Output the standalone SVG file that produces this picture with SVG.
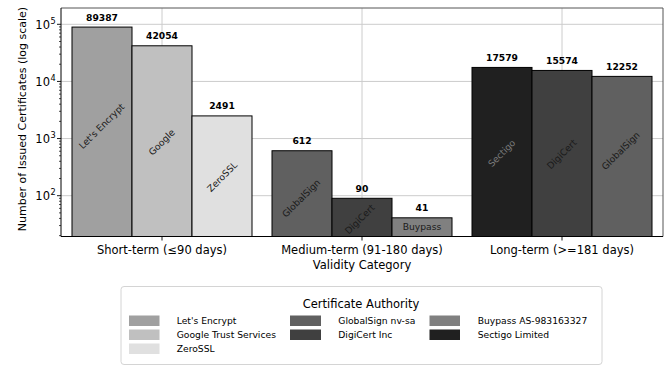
<svg xmlns="http://www.w3.org/2000/svg" width="667" height="368" viewBox="0 0 667 368">
<style>
text{font-family:"DejaVu Sans","Liberation Sans",sans-serif;fill:#000}
.tick{font-size:11.5px}
.sup{font-size:8.2px}
.val{font-size:9.2px;font-weight:bold;text-anchor:middle}
.bl{font-size:9.2px;text-anchor:middle;dominant-baseline:central;fill:#1a1a1a}
.leg{font-size:9.2px}
.grid{stroke:#cccccc;stroke-width:1;fill:none}
.bar{stroke:#000;stroke-width:1}
</style>
<rect width="667" height="368" fill="#fff"/>
<g id="grid">
<path class="grid" d="M162,8V236.5M362,8V236.5M562,8V236.5M61,24.3H663M61,81.43H663M61,138.56H663M61,195.69H663"/>
</g>
<g id="bars">
<g id="bar-letsencrypt"><rect class="bar" x="72" y="27.08" width="60" height="209.42" fill="#a0a0a0"/><text class="val" x="102" y="20.6">89387</text><text class="bl" transform="translate(101.5,126) rotate(-45)">Let's Encrypt</text></g>
<g id="bar-google"><rect class="bar" x="132" y="45.79" width="60" height="190.71" fill="#c0c0c0"/><text class="val" x="162" y="39.3">42054</text><text class="bl" transform="translate(161.5,142) rotate(-45)">Google</text></g>
<g id="bar-zerossl"><rect class="bar" x="192" y="115.91" width="60" height="120.59" fill="#e0e0e0"/><text class="val" x="222" y="109.4">2491</text><text class="bl" transform="translate(222,176.5) rotate(-45)">ZeroSSL</text></g>
<g id="bar-globalsign-m"><rect class="bar" x="272" y="150.74" width="60" height="85.76" fill="#606060"/><text class="val" x="302" y="144.2">612</text><text class="bl" transform="translate(301,198) rotate(-45)">GlobalSign</text></g>
<g id="bar-digicert-m"><rect class="bar" x="332" y="198.3" width="60" height="38.2" fill="#404040"/><text class="val" x="362" y="191.8">90</text><text class="bl" transform="translate(359.5,219) rotate(-45)">DigiCert</text></g>
<g id="bar-buypass"><rect class="bar" x="392" y="217.81" width="60" height="18.69" fill="#808080"/><text class="val" x="422" y="211.3">41</text><text class="bl" x="422" y="226.5">Buypass</text></g>
<g id="bar-sectigo"><rect class="bar" x="472" y="67.43" width="60" height="169.07" fill="#202020"/><text class="val" x="502" y="60.9">17579</text><text class="bl" style="fill:#7a7a7a" transform="translate(501.5,153) rotate(-45)">Sectigo</text></g>
<g id="bar-digicert-l"><rect class="bar" x="532" y="70.44" width="60" height="166.06" fill="#404040"/><text class="val" x="562" y="63.9">15574</text><text class="bl" transform="translate(561.5,154) rotate(-45)">DigiCert</text></g>
<g id="bar-globalsign-l"><rect class="bar" x="592" y="76.39" width="60" height="160.11" fill="#606060"/><text class="val" x="622" y="69.9">12252</text><text class="bl" transform="translate(620.5,150.5) rotate(-45)">GlobalSign</text></g>
</g>
<g id="axes">
<path d="M61,8H663V236.5" fill="none" stroke="#555" stroke-width="1"/>
<path d="M61,8V236.5H663" fill="none" stroke="#000" stroke-width="1"/>
<path d="M57,24.3H61M57,81.43H61M57,138.56H61M57,195.69H61M162,236.5V240.5M362,236.5V240.5M562,236.5V240.5" stroke="#000" stroke-width="0.9"/>
<path d="M59,235.62H61M59,225.56H61M59,218.42H61M59,212.89H61M59,208.36H61M59,204.54H61M59,201.23H61M59,198.3H61M59,178.49H61M59,168.43H61M59,161.29H61M59,155.76H61M59,151.23H61M59,147.41H61M59,144.1H61M59,141.17H61M59,121.36H61M59,111.3H61M59,104.16H61M59,98.63H61M59,94.1H61M59,90.28H61M59,86.97H61M59,84.04H61M59,64.23H61M59,54.17H61M59,47.03H61M59,41.5H61M59,36.97H61M59,33.15H61M59,29.84H61M59,26.91H61" stroke="#000" stroke-width="0.7"/>
<text class="tick" x="50" y="28.5" text-anchor="end">10</text><text class="sup" x="50.6" y="24">5</text>
<text class="tick" x="50" y="85.6" text-anchor="end">10</text><text class="sup" x="50.6" y="81.1">4</text>
<text class="tick" x="50" y="142.7" text-anchor="end">10</text><text class="sup" x="50.6" y="138.2">3</text>
<text class="tick" x="50" y="199.9" text-anchor="end">10</text><text class="sup" x="50.6" y="195.4">2</text>
<text class="tick" x="162" y="254" text-anchor="middle">Short-term (≤90 days)</text>
<text class="tick" x="362" y="254" text-anchor="middle">Medium-term (91-180 days)</text>
<text class="tick" x="562" y="254" text-anchor="middle">Long-term (&gt;=181 days)</text>
<text class="tick" x="362" y="268.5" text-anchor="middle">Validity Category</text>
<text class="tick" style="font-size:11px" text-anchor="middle" transform="translate(25.5,119) rotate(-90)">Number of Issued Certificates (log scale)</text>
</g>
<g id="connectors"/>
<g id="legend">
<rect x="121" y="286.5" width="481" height="78" rx="3" fill="#fff" stroke="#d4d4d4" stroke-width="1"/>
<text class="tick" x="361" y="308" text-anchor="middle">Certificate Authority</text>
<rect x="129" y="315.5" width="30.5" height="10.5" fill="#a0a0a0"/><text class="leg" x="176.7" y="324">Let's Encrypt</text>
<rect x="129" y="329.5" width="30.5" height="10.5" fill="#c0c0c0"/><text class="leg" x="176.7" y="338">Google Trust Services</text>
<rect x="129" y="343.5" width="30.5" height="10.5" fill="#e0e0e0"/><text class="leg" x="176.7" y="352">ZeroSSL</text>
<rect x="290" y="315.5" width="31" height="10.5" fill="#606060"/><text class="leg" x="338.3" y="324">GlobalSign nv-sa</text>
<rect x="290" y="329.5" width="31" height="10.5" fill="#404040"/><text class="leg" x="338.3" y="338">DigiCert Inc</text>
<rect x="429.5" y="315.5" width="30.5" height="10.5" fill="#808080"/><text class="leg" x="477.7" y="324">Buypass AS-983163327</text>
<rect x="429.5" y="329.5" width="30.5" height="10.5" fill="#202020"/><text class="leg" x="477.7" y="338">Sectigo Limited</text>
</g>
</svg>
